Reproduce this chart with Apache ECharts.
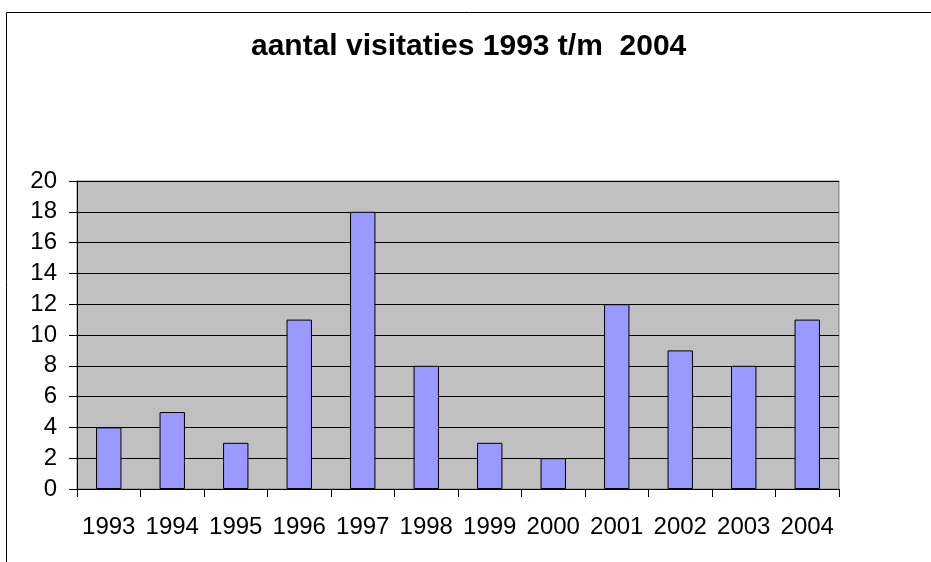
<!DOCTYPE html>
<html>
<head>
<meta charset="utf-8">
<script src="https://cdn.jsdelivr.net/npm/echarts@6/dist/echarts.min.js"></script>
<style>
  html, body { margin: 0; padding: 0; background: #fff; }
  #main { width: 931px; height: 562px; }
</style>
</head>
<body>
<div id="main"></div>
<script>
// jaren en aantal visitaties
const years = ['1993','1994','1995','1996','1997','1998','1999','2000','2001','2002','2003','2004'];
const visits = [4, 5, 3, 11, 18, 8, 3, 2, 12, 9, 8, 11];
const titleText = 'aantal visitaties 1993 t/m  2004';

const chart = echarts.init(document.getElementById('main'));

const option = {
  backgroundColor: '#ffffff',
  animation: false,
  textStyle: { fontFamily: 'Liberation Sans, Arial, sans-serif' },
  title: {
    text: titleText,
    left: 251,
    top: 32,
    padding: 0,
    textStyle: { fontSize: 30, fontWeight: 'bold', color: '#000', fontFamily: 'Liberation Sans, Arial, sans-serif' }
  },
  // outer chart frame
  graphic: [{
    type: 'rect',
    left: 4, top: 10,
    shape: { width: 1000, height: 1000 },
    style: { fill: 'none', stroke: '#000', lineWidth: 1 },
    silent: true
  }],
  grid: {
    left: 77, right: 92, top: 181, bottom: 73,
    show: true,
    backgroundColor: '#c0c0c0',
    borderColor: '#808080',
    borderWidth: 1
  },
  xAxis: {
    type: 'category',
    data: years,
    boundaryGap: true,
    axisLine: { lineStyle: { color: '#000', width: 1 } },
    axisTick: { show: true, length: 8, alignWithLabel: false, lineStyle: { color: '#000' } },
    axisLabel: { color: '#000', fontSize: 24, margin: 26, interval: 0 }
  },
  yAxis: {
    type: 'value',
    min: 0, max: 20, interval: 2,
    axisLine: { show: true, lineStyle: { color: '#000', width: 1 } },
    axisTick: { show: true, length: 8, lineStyle: { color: '#000' } },
    axisLabel: { color: '#000', fontSize: 24, margin: 20 },
    splitLine: { show: true, lineStyle: { color: '#000', width: 1 } }
  },
  series: [{
    type: 'bar',
    data: visits,
    barWidth: '40%',
    itemStyle: { color: '#9999ff', borderColor: '#000', borderWidth: 1 }
  }]
};

chart.setOption(option);
</script>
</body>
</html>
